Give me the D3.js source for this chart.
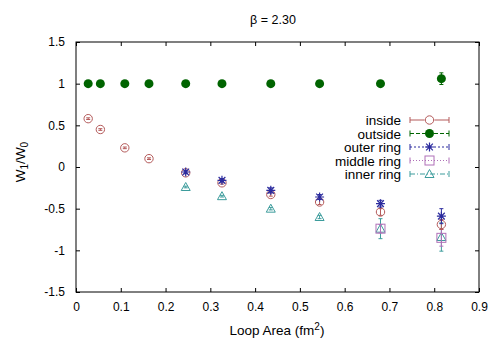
<!DOCTYPE html>
<html>
<head>
<meta charset="utf-8">
<script src="https://cdn.jsdelivr.net/npm/d3@7"></script>
<style>
  body { margin: 0; background: #fff; }
  text { font-family: "Liberation Sans", Arial, sans-serif; }
</style>
</head>
<body>
<div id="chart"></div>
<script>
// loop areas (fm^2)
var areas = [0.0272, 0.0544, 0.109, 0.163, 0.245, 0.326, 0.435, 0.544, 0.680, 0.816];

var insideVals = [0.58, 0.45, 0.23, 0.10, -0.07, -0.19, -0.33, -0.42, -0.54, -0.69];
var insideErr  = [0.01, 0.01, 0.01, 0.01, 0.01, 0.015, 0.02, 0.03, 0.04, 0.06];

var outsideVals = [1, 1, 1, 1, 1, 1, 1, 1, 1, 1.06];
var outsideErr  = [0.005, 0.005, 0.005, 0.005, 0.005, 0.005, 0.005, 0.005, 0.01, 0.07];

var outerAreas = [0.245, 0.326, 0.435, 0.544, 0.680, 0.816];
var outerVals  = [-0.06, -0.16, -0.28, -0.36, -0.44, -0.59];
var outerErr   = [0.02, 0.02, 0.03, 0.03, 0.04, 0.09];

var middleAreas = [0.680, 0.816];
var middleVals  = [-0.74, -0.85];
var middleErr   = [0.05, 0.10];

var innerAreas = [0.245, 0.326, 0.435, 0.544, 0.680, 0.816];
var innerVals  = [-0.24, -0.35, -0.50, -0.60, -0.74, -0.84];
var innerErr   = [0.01, 0.01, 0.015, 0.02, 0.12, 0.17];

var xTicks = [0, 0.1, 0.2, 0.3, 0.4, 0.5, 0.6, 0.7, 0.8, 0.9];
var yTicks = [-1.5, -1, -0.5, 0, 0.5, 1, 1.5];

var svgWidth = 500;
var svgHeight = 350;
var margin = { top: 42, right: 21, bottom: 58, left: 76 };
var width = svgWidth - margin.left - margin.right;
var height = svgHeight - margin.top - margin.bottom;

var svg = d3.select("#chart").append("svg")
  .attr("width", svgWidth)
  .attr("height", svgHeight);

var chartGroup = svg.append("g")
  .attr("transform", `translate(${margin.left}, ${margin.top})`);

var x = d3.scaleLinear().domain([0, 0.9]).range([0, width]);
var y = d3.scaleLinear().domain([-1.5, 1.5]).range([height, 0]);

var fmt = d => String(d);

// axes with inward ticks, mirrored on all sides
function styleAxis(g) {
  g.select(".domain").remove();
  g.selectAll("line").attr("stroke", "#000").attr("stroke-width", 1);
  g.selectAll("text").attr("font-size", 12).attr("fill", "#000");
}

chartGroup.append("g")
  .attr("transform", `translate(0, ${height})`)
  .call(d3.axisBottom(x).tickValues(xTicks).tickFormat(fmt).tickSizeInner(-4).tickPadding(10))
  .call(styleAxis);
chartGroup.append("g")
  .call(d3.axisTop(x).tickValues(xTicks).tickFormat("").tickSizeInner(-4))
  .call(styleAxis);
chartGroup.append("g")
  .call(d3.axisLeft(y).tickValues(yTicks).tickFormat(fmt).tickSizeInner(-4).tickPadding(11))
  .call(styleAxis);
chartGroup.append("g")
  .attr("transform", `translate(${width}, 0)`)
  .call(d3.axisRight(y).tickValues(yTicks).tickFormat("").tickSizeInner(-4))
  .call(styleAxis);

chartGroup.append("rect")
  .attr("width", width)
  .attr("height", height)
  .attr("fill", "none")
  .attr("stroke", "#000")
  .attr("stroke-width", 1);

// series definitions
var series = [
  { name: "inside", xs: areas, ys: insideVals, es: insideErr, color: "#b45a5a", dash: null, marker: "circle" },
  { name: "outside", xs: areas, ys: outsideVals, es: outsideErr, color: "#006400", dash: "4,2", marker: "dot" },
  { name: "outer ring", xs: outerAreas, ys: outerVals, es: outerErr, color: "#2b2b9e", dash: "2,2", marker: "star" },
  { name: "middle ring", xs: middleAreas, ys: middleVals, es: middleErr, color: "#b070b8", dash: "1,2", marker: "square" },
  { name: "inner ring", xs: innerAreas, ys: innerVals, es: innerErr, color: "#3c9c9c", dash: "5,2,1,2", marker: "triangle" }
];

function drawMarker(g, type, color) {
  if (type === "circle") {
    g.append("circle").attr("r", 4.2).attr("fill", "none").attr("stroke", color).attr("stroke-width", 1);
  } else if (type === "dot") {
    g.append("circle").attr("r", 4.5).attr("fill", color);
  } else if (type === "star") {
    var s = 4.5;
    g.append("path")
      .attr("d", `M${-s},0H${s}M0,${-s}V${s}M${-s * 0.75},${-s * 0.75}L${s * 0.75},${s * 0.75}M${-s * 0.75},${s * 0.75}L${s * 0.75},${-s * 0.75}`)
      .attr("stroke", color).attr("stroke-width", 1.2).attr("fill", "none");
  } else if (type === "square") {
    g.append("rect").attr("x", -4.5).attr("y", -4.5).attr("width", 9).attr("height", 9)
      .attr("fill", "none").attr("stroke", color).attr("stroke-width", 1);
  } else if (type === "triangle") {
    g.append("path").attr("d", "M0,-4.5L4.5,3.5L-4.5,3.5Z")
      .attr("fill", "none").attr("stroke", color).attr("stroke-width", 1);
  }
}

// draw order: inner, middle, outside, inside, outer (star on top)
[4, 3, 1, 0, 2].forEach(function(i) {
  var s = series[i];
  var pts = s.xs.map((v, k) => ({ x: v, y: s.ys[k], e: s.es[k] }));
  var grp = chartGroup.append("g");
  pts.forEach(function(p) {
    var px = x(p.x), py = y(p.y);
    var top = y(p.y + p.e), bot = y(p.y - p.e);
    grp.append("path")
      .attr("d", `M${px},${top}V${bot}M${px - 2},${top}H${px + 2}M${px - 2},${bot}H${px + 2}`)
      .attr("stroke", s.color).attr("stroke-width", 1).attr("fill", "none");
    var m = grp.append("g").attr("transform", `translate(${px},${py})`);
    drawMarker(m, s.marker, s.color);
  });
});

// legend
var legend = svg.append("g");
series.forEach(function(s, i) {
  var ly = 120 + i * 13.5;
  legend.append("text")
    .attr("x", 401).attr("y", ly + 5)
    .attr("text-anchor", "end")
    .attr("font-size", 13.5)
    .text(s.name);
  legend.append("line")
    .attr("x1", 410).attr("x2", 449).attr("y1", ly).attr("y2", ly)
    .attr("stroke", s.color).attr("stroke-width", 1)
    .attr("stroke-dasharray", s.dash);
  legend.append("path")
    .attr("d", `M410,${ly - 3}V${ly + 3}M449,${ly - 3}V${ly + 3}`)
    .attr("stroke", s.color).attr("stroke-width", 1);
  var m = legend.append("g").attr("transform", `translate(429.5,${ly})`);
  m.append("circle").attr("r", 5).attr("fill", "#fff").attr("opacity", s.marker === "circle" ? 1 : 0);
  drawMarker(m, s.marker, s.color);
});

// title
svg.append("text")
  .attr("x", 273).attr("y", 24)
  .attr("text-anchor", "middle")
  .attr("font-size", 12.5)
  .text("\u03b2 = 2.30");

// x axis label
var xl = svg.append("text")
  .attr("x", 277).attr("y", 335)
  .attr("text-anchor", "middle")
  .attr("font-size", 13.5);
xl.append("tspan").text("Loop Area (fm");
xl.append("tspan").attr("font-size", 10).attr("dy", -5).text("2");
xl.append("tspan").attr("dy", 5).text(")");

// y axis label
var yl = svg.append("text")
  .attr("transform", "translate(25, 162) rotate(-90)")
  .attr("text-anchor", "middle")
  .attr("font-size", 13.5);
yl.append("tspan").text("W");
yl.append("tspan").attr("font-size", 10).attr("dy", 3).text("1");
yl.append("tspan").attr("dy", -3).text("/W");
yl.append("tspan").attr("font-size", 10).attr("dy", 3).text("0");
</script>
</body>
</html>
